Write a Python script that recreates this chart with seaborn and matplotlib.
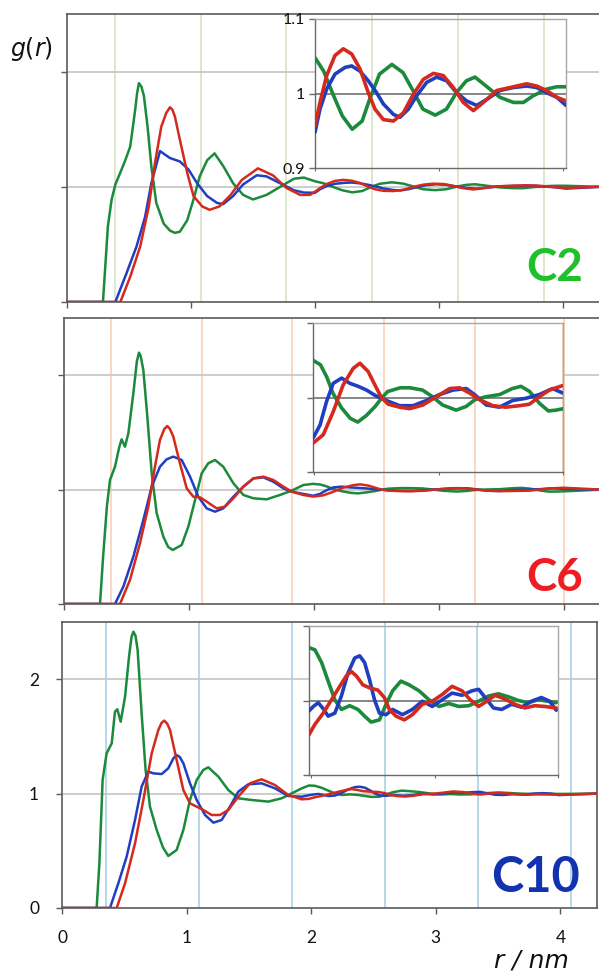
import numpy as np
import matplotlib
matplotlib.use("Agg")
import matplotlib.pyplot as plt
import seaborn as sns

sns.set_theme(style="white")
plt.rcParams["font.family"] = ["Lato", "DejaVu Sans"]
plt.rcParams["mathtext.fontset"] = "dejavusans"

# ---------------- data ----------------
# C2 panel, main curves (r < 2 nm)
c2_green_r = [0, 0.29, 0.33, 0.36, 0.39, 0.44, 0.47, 0.48, 0.51, 0.55, 0.565, 0.58, 0.60, 0.62, 0.65, 0.68, 0.72, 0.78, 0.83, 0.87, 0.91, 0.97, 1.02, 1.07, 1.13, 1.19, 1.26, 1.34, 1.42, 1.50, 1.61, 1.72, 1.83, 1.91]
c2_green_g = [0, 0, 0.66, 0.89, 1.02, 1.15, 1.23, 1.26, 1.35, 1.67, 1.81, 1.90, 1.87, 1.79, 1.52, 1.18, 0.86, 0.68, 0.62, 0.60, 0.61, 0.71, 0.89, 1.09, 1.23, 1.29, 1.18, 1.03, 0.93, 0.89, 0.93, 1.00, 1.07, 1.08]
c2_blue_r = [0, 0.39, 0.48, 0.56, 0.63, 0.68, 0.75, 0.83, 0.91, 0.98, 1.05, 1.13, 1.21, 1.26, 1.34, 1.42, 1.53, 1.61, 1.72, 1.83, 1.91]
c2_blue_g = [0, 0, 0.25, 0.48, 0.74, 1.03, 1.31, 1.25, 1.22, 1.15, 1.03, 0.92, 0.86, 0.85, 0.92, 1.02, 1.10, 1.09, 1.03, 0.97, 0.95]
c2_red_r = [0, 0.43, 0.51, 0.59, 0.66, 0.71, 0.76, 0.80, 0.83, 0.85, 0.87, 0.91, 0.97, 1.02, 1.09, 1.15, 1.23, 1.32, 1.41, 1.54, 1.66, 1.77, 1.88, 1.96]
c2_red_g = [0, 0, 0.22, 0.48, 0.83, 1.21, 1.52, 1.64, 1.69, 1.67, 1.61, 1.41, 1.12, 0.92, 0.83, 0.80, 0.83, 0.93, 1.06, 1.16, 1.10, 0.99, 0.93, 0.93]
# C2 inset (r 2-4 nm)
c2i_green_r = [2.00, 2.07, 2.15, 2.22, 2.30, 2.38, 2.44, 2.52, 2.62, 2.71, 2.79, 2.87, 2.97, 3.06, 3.14, 3.22, 3.29, 3.38, 3.49, 3.60, 3.68, 3.76, 3.87, 3.95, 4.02]
c2i_green_g = [1.048, 1.030, 0.997, 0.970, 0.952, 0.963, 0.992, 1.026, 1.039, 1.028, 1.004, 0.979, 0.971, 0.979, 1.001, 1.017, 1.022, 1.010, 0.995, 0.988, 0.988, 0.997, 1.006, 1.009, 1.009]
c2i_blue_r = [2.000, 2.040, 2.094, 2.161, 2.242, 2.296, 2.363, 2.430, 2.497, 2.551, 2.632, 2.685, 2.753, 2.820, 2.901, 2.981, 3.062, 3.142, 3.223, 3.304, 3.384, 3.492, 3.599, 3.707, 3.788, 3.868, 3.949, 4.024]
c2i_blue_g = [0.948, 0.979, 1.006, 1.026, 1.035, 1.037, 1.030, 1.017, 1.001, 0.986, 0.972, 0.968, 0.979, 0.997, 1.015, 1.022, 1.017, 1.001, 0.990, 0.984, 0.992, 1.004, 1.008, 1.010, 1.008, 1.001, 0.995, 0.984]
c2i_red_r = [2.000, 2.040, 2.094, 2.161, 2.228, 2.296, 2.363, 2.430, 2.484, 2.551, 2.632, 2.712, 2.793, 2.874, 2.955, 3.035, 3.116, 3.196, 3.277, 3.358, 3.465, 3.573, 3.707, 3.788, 3.868, 3.949, 4.024]
c2i_red_g = [0.957, 0.988, 1.024, 1.051, 1.060, 1.053, 1.033, 1.001, 0.979, 0.965, 0.963, 0.974, 0.999, 1.019, 1.027, 1.024, 1.008, 0.988, 0.977, 0.988, 1.004, 1.008, 1.013, 1.010, 1.004, 0.995, 0.990]

# C6 panel, main curves
c6_green_r = [0, 0.285, 0.31, 0.34, 0.365, 0.405, 0.44, 0.458, 0.485, 0.512, 0.552, 0.58, 0.597, 0.61, 0.632, 0.664, 0.699, 0.739, 0.792, 0.83, 0.867, 0.939, 0.992, 1.046, 1.099, 1.152, 1.206, 1.272, 1.353, 1.433, 1.513, 1.619, 1.726, 1.820, 1.913]
c6_green_g = [0, 0, 0.414, 0.851, 1.084, 1.200, 1.375, 1.439, 1.375, 1.492, 1.841, 2.12, 2.197, 2.17, 2.045, 1.638, 1.142, 0.793, 0.589, 0.50, 0.472, 0.516, 0.676, 0.909, 1.142, 1.230, 1.259, 1.200, 1.055, 0.953, 0.924, 0.915, 0.953, 0.991, 1.040]
c6_blue_r = [0, 0.405, 0.472, 0.552, 0.632, 0.699, 0.765, 0.819, 0.872, 0.939, 1.006, 1.072, 1.139, 1.206, 1.272, 1.353, 1.433, 1.513, 1.593, 1.673, 1.753, 1.820, 1.913]
c6_blue_g = [0, 0, 0.152, 0.414, 0.734, 1.026, 1.200, 1.265, 1.288, 1.259, 1.113, 0.938, 0.836, 0.807, 0.836, 0.938, 1.026, 1.098, 1.107, 1.069, 1.011, 0.982, 0.962]
c6_red_r = [0, 0.445, 0.525, 0.605, 0.672, 0.725, 0.765, 0.80, 0.824, 0.845, 0.872, 0.925, 0.979, 1.032, 1.086, 1.139, 1.219, 1.286, 1.353, 1.433, 1.513, 1.593, 1.673, 1.753, 1.820, 1.913]
c6_red_g = [0, 0, 0.210, 0.530, 0.851, 1.200, 1.434, 1.53, 1.556, 1.53, 1.463, 1.230, 1.011, 0.938, 0.932, 0.895, 0.836, 0.851, 0.924, 1.026, 1.098, 1.113, 1.084, 1.026, 0.982, 0.953]
# C6 inset
c6i_green_r = [1.99, 2.05, 2.10, 2.15, 2.22, 2.29, 2.35, 2.42, 2.49, 2.54, 2.59, 2.69, 2.77, 2.87, 2.95, 3.03, 3.14, 3.22, 3.29, 3.38, 3.49, 3.59, 3.66, 3.73, 3.81, 3.88, 3.94, 4.00]
c6i_green_g = [1.050, 1.044, 1.028, 1.006, 0.986, 0.972, 0.967, 0.976, 0.988, 0.999, 1.008, 1.013, 1.013, 1.010, 1.001, 0.990, 0.983, 0.988, 0.997, 1.001, 1.004, 1.012, 1.015, 1.008, 0.992, 0.982, 0.983, 0.985]
c6i_blue_r = [1.993, 2.047, 2.100, 2.153, 2.220, 2.287, 2.353, 2.420, 2.487, 2.540, 2.594, 2.687, 2.794, 2.901, 3.008, 3.114, 3.221, 3.287, 3.381, 3.487, 3.594, 3.701, 3.808, 3.914, 3.995]
c6i_blue_g = [0.946, 0.963, 0.995, 1.019, 1.026, 1.019, 1.015, 1.010, 1.003, 0.999, 0.995, 0.989, 0.989, 0.996, 1.004, 1.010, 1.012, 1.004, 0.990, 0.987, 0.996, 0.999, 1.004, 1.012, 1.006]
c6i_red_r = [1.993, 2.073, 2.153, 2.233, 2.313, 2.367, 2.433, 2.487, 2.540, 2.594, 2.687, 2.767, 2.874, 2.981, 3.088, 3.168, 3.248, 3.328, 3.434, 3.541, 3.648, 3.728, 3.808, 3.888, 3.995]
c6i_red_g = [0.939, 0.950, 0.981, 1.017, 1.039, 1.046, 1.035, 1.017, 1.000, 0.991, 0.987, 0.985, 0.990, 1.001, 1.012, 1.013, 1.006, 0.997, 0.989, 0.987, 0.989, 0.991, 1.001, 1.010, 1.016]

# C10 panel, main curves
c10_green_r = [0, 0.278, 0.300, 0.326, 0.358, 0.399, 0.425, 0.444, 0.471, 0.506, 0.538, 0.558, 0.573, 0.59, 0.607, 0.639, 0.671, 0.706, 0.760, 0.81, 0.853, 0.920, 0.974, 1.027, 1.081, 1.134, 1.174, 1.255, 1.335, 1.415, 1.522, 1.656, 1.763, 1.843, 1.924]
c10_green_g = [0, 0, 0.390, 1.119, 1.352, 1.439, 1.716, 1.737, 1.629, 1.847, 2.197, 2.37, 2.415, 2.38, 2.255, 1.702, 1.206, 0.886, 0.682, 0.53, 0.455, 0.507, 0.682, 0.944, 1.119, 1.206, 1.230, 1.148, 1.031, 0.959, 0.944, 0.930, 0.959, 1.002, 1.046]
c10_blue_r = [0, 0.385, 0.452, 0.519, 0.586, 0.639, 0.693, 0.733, 0.800, 0.853, 0.895, 0.920, 0.945, 0.974, 1.027, 1.081, 1.148, 1.215, 1.281, 1.348, 1.415, 1.495, 1.602, 1.709, 1.816, 1.924]
c10_blue_g = [0, 0, 0.216, 0.449, 0.769, 1.061, 1.192, 1.177, 1.171, 1.221, 1.31, 1.337, 1.32, 1.265, 1.090, 0.944, 0.813, 0.746, 0.769, 0.886, 1.017, 1.081, 1.090, 1.046, 0.979, 0.973]
c10_red_r = [0, 0.439, 0.506, 0.586, 0.653, 0.720, 0.773, 0.80, 0.821, 0.845, 0.867, 0.920, 0.974, 1.027, 1.081, 1.134, 1.201, 1.268, 1.335, 1.415, 1.509, 1.602, 1.709, 1.816, 1.924]
c10_red_g = [0, 0, 0.216, 0.565, 0.944, 1.352, 1.556, 1.62, 1.638, 1.61, 1.556, 1.294, 1.031, 0.915, 0.886, 0.857, 0.813, 0.813, 0.857, 0.973, 1.090, 1.125, 1.075, 0.988, 0.950]
# C10 inset
c10i_green_r = [1.982, 2.030, 2.084, 2.137, 2.191, 2.244, 2.311, 2.378, 2.432, 2.485, 2.552, 2.606, 2.659, 2.726, 2.793, 2.873, 2.953, 3.034, 3.114, 3.194, 3.275, 3.355, 3.435, 3.515, 3.596, 3.676, 3.756, 3.836, 3.916, 3.983]
c10i_green_g = [1.071, 1.068, 1.051, 1.026, 1.001, 0.988, 0.993, 0.988, 0.979, 0.971, 0.974, 0.995, 1.013, 1.026, 1.021, 1.013, 1.001, 0.992, 0.996, 0.992, 0.993, 0.999, 1.006, 1.009, 1.005, 1.000, 0.997, 1.001, 0.999, 0.997]
c10i_blue_r = [1.982, 2.017, 2.057, 2.097, 2.137, 2.191, 2.244, 2.298, 2.352, 2.392, 2.432, 2.472, 2.512, 2.552, 2.606, 2.659, 2.739, 2.819, 2.900, 2.980, 3.060, 3.140, 3.221, 3.301, 3.355, 3.408, 3.475, 3.542, 3.622, 3.702, 3.783, 3.863, 3.930, 3.983]
c10i_blue_g = [0.986, 0.992, 0.997, 0.989, 0.979, 0.983, 1.006, 1.037, 1.057, 1.060, 1.051, 1.028, 1.001, 0.983, 0.981, 0.988, 0.981, 0.988, 0.999, 0.992, 1.001, 1.010, 1.007, 1.013, 1.015, 1.004, 0.990, 0.988, 0.995, 0.991, 0.999, 1.004, 0.999, 0.987]
c10i_red_r = [1.982, 2.030, 2.097, 2.164, 2.231, 2.284, 2.324, 2.365, 2.418, 2.472, 2.539, 2.592, 2.632, 2.686, 2.753, 2.819, 2.900, 2.980, 3.060, 3.140, 3.221, 3.287, 3.355, 3.421, 3.488, 3.568, 3.649, 3.729, 3.809, 3.890, 3.983]
c10i_red_g = [0.954, 0.968, 0.983, 1.001, 1.019, 1.033, 1.039, 1.033, 1.021, 1.017, 1.014, 1.004, 0.988, 0.979, 0.974, 0.981, 0.995, 0.999, 1.008, 1.019, 1.013, 1.001, 0.992, 0.999, 1.007, 1.002, 0.995, 0.990, 0.993, 0.992, 0.990]

# value of every curve at the right edge of the main panels
tail_r = [4.3]
tail_g = [1.0]

# light vertical guide lines of each panel (r, nm)
vlines_c2 = [0.387, 1.08, 1.77, 2.46, 3.15, 3.85]
vlines_c6 = [0.373, 1.10, 1.825, 2.56, 3.29, 4.0]
vlines_c10 = [0.354, 1.098, 1.845, 2.595, 3.342, 4.084]

x_ticks = [0, 1, 2, 3, 4]
y_ticks = [0, 1, 2]
inset_yticks = [0.9, 1.0, 1.1]
inset_ylabels = ["0.9", "1", "1.1"]
panel_labels = ["C2", "C6", "C10"]

# ---------------- styling ----------------
W, H = 599, 973
GREEN, BLUE, RED = "#1b8a3c", "#1f3fc0", "#d42a1e"
VCOL = ["#d5e3c3", "#f8d2b8", "#a9cfe6"]
LABCOL = ["#1fc02a", "#ee1d23", "#1233b0"]
SPINE = "#5a5a5a"


def box(x0, y0, x1, y1):
    return [x0 / W, 1 - y1 / H, (x1 - x0) / W, (y1 - y0) / H]


fig = plt.figure(figsize=(W / 100, H / 100), dpi=100)

panels = [
    dict(main=box(67, 14, 67 + 4.3 * 124, 302), xlim=(0, 4.3),
         inset=box(315, 19, 566, 168), ixlim=(2.0, 4.024),
         vl=vlines_c2, lab=(583, 281), fs=33,
         main_data=[(c2_green_r, c2_green_g, c2i_green_r, c2i_green_g, GREEN),
                    (c2_blue_r, c2_blue_g, c2i_blue_r, c2i_blue_g, BLUE),
                    (c2_red_r, c2_red_g, c2i_red_r, c2i_red_g, RED)]),
    dict(main=box(64.4, 318, 64.4 + 4.3 * 124.9, 604), xlim=(0, 4.3),
         inset=box(313.3, 323, 563.3, 472), ixlim=(1.993, 3.994),
         vl=vlines_c6, lab=(583, 591), fs=33,
         main_data=[(c6_green_r, c6_green_g, c6i_green_r, c6i_green_g, GREEN),
                    (c6_blue_r, c6_blue_g, c6i_blue_r, c6i_blue_g, BLUE),
                    (c6_red_r, c6_red_g, c6i_red_r, c6i_red_g, RED)]),
    dict(main=box(62, 622, 597, 908), xlim=(0, (597 - 62) / 124.6),
         inset=box(309, 626, 558.3, 775), ixlim=(1.982, 3.983),
         vl=vlines_c10, lab=(580, 892), fs=35,
         main_data=[(c10_green_r, c10_green_g, c10i_green_r, c10i_green_g, GREEN),
                    (c10_blue_r, c10_blue_g, c10i_blue_r, c10i_blue_g, BLUE),
                    (c10_red_r, c10_red_g, c10i_red_r, c10i_red_g, RED)]),
]

for i, p in enumerate(panels):
    ax = fig.add_axes(p["main"])
    ax.set_facecolor("white")
    ax.set_xlim(*p["xlim"])
    ax.set_ylim(0, 2.5)
    for v in p["vl"]:
        ax.axvline(v, color=VCOL[i], lw=1.2, zorder=0.5)
    for yv in (1, 2):
        ax.axhline(yv, color="#c9c9c9", lw=1.3, zorder=0.6)
    for rm, gm, ri, gi, col in p["main_data"]:
        rr = np.array(rm + ri + tail_r)
        gg = np.array(gm + gi + tail_g)
        sns.lineplot(x=rr, y=gg, ax=ax, color=col, lw=1.8, legend=False, zorder=3)
    ax.set_xlabel("")
    ax.set_ylabel("")
    ax.set_xticks(x_ticks)
    ax.set_yticks(y_ticks)
    for s in ax.spines.values():
        s.set_color(SPINE)
        s.set_linewidth(1.2)
        s.set_visible(True)
    ax.tick_params(axis="both", which="major", direction="out", length=4.5,
                   width=1.0, color=SPINE, bottom=True, left=True,
                   labelsize=12.5, labelcolor="#111111")
    if i < 2:
        ax.tick_params(labelbottom=False, labelleft=False)
    else:
        ax.tick_params(axis="x", pad=11)
        ax.tick_params(axis="y", pad=12)
        ax.set_xticklabels([str(t) for t in x_ticks])
        ax.set_yticklabels([str(t) for t in y_ticks])

    # inset
    ia = fig.add_axes(p["inset"], zorder=5)
    ia.set_facecolor("white")
    ia.set_xlim(*p["ixlim"])
    ia.set_ylim(0.9, 1.1)
    for v in p["vl"]:
        if p["ixlim"][0] < v <= p["ixlim"][1] + 0.01:
            ia.axvline(v, color=VCOL[i], lw=1.2, zorder=0.5)
    ia.axhline(1.0, color="#7c7c7c", lw=1.3, zorder=0.6)
    for rm, gm, ri, gi, col in p["main_data"]:
        sns.lineplot(x=np.array(ri), y=np.array(gi), ax=ia, color=col, lw=2.6,
                     legend=False, zorder=3)
    ia.set_xlabel("")
    ia.set_ylabel("")
    ia.set_xticks([2, 3, 4])
    ia.set_yticks(inset_yticks)
    for name, s in ia.spines.items():
        s.set_visible(True)
        s.set_linewidth(1.0)
        s.set_color("#6a6a6a" if name in ("left", "bottom") else "#a8a8a8")
    ia.tick_params(axis="x", direction="out", length=2, width=0.8, color="#6a6a6a",
                   bottom=True, labelbottom=False)
    ia.tick_params(axis="y", direction="out", length=4, width=1.0, color="#6a6a6a",
                   left=True, labelsize=11.5, pad=3, labelcolor="#111111")
    if i == 0:
        ia.set_yticklabels(inset_ylabels)
    else:
        ia.tick_params(axis="y", labelleft=False)

    # panel label
    fig.text(p["lab"][0] / W, 1 - p["lab"][1] / H, panel_labels[i],
             ha="right", va="baseline", color=LABCOL[i], fontsize=p["fs"],
             fontweight="bold", family=["Lato", "DejaVu Sans"],
             zorder=10)

fig.text(10 / W, 1 - 49 / H, r"$g(r)$", ha="left", va="center", fontsize=17,
         color="#111111")
fig.text(494 / W, 1 - 968 / H, "r / nm", ha="left", va="baseline", fontsize=18,
         style="italic", color="#111111", family=["DejaVu Sans"])

fig.savefig("out.png", dpi=100)
